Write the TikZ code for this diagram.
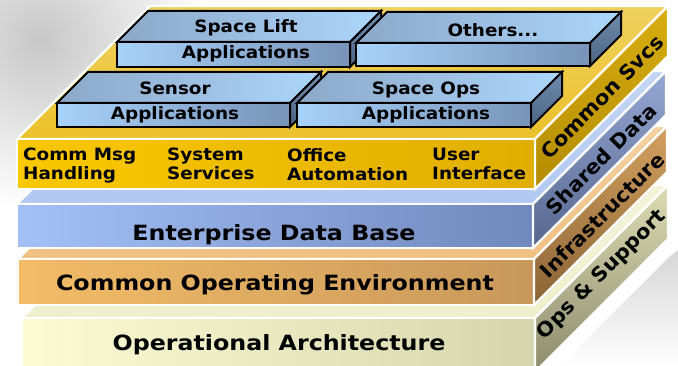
\documentclass[tikz,border=0pt]{standalone}
\usepackage{fontspec}
\setmainfont{DejaVu Sans}
\newfontfamily\bigfont{DejaVu Sans}[FakeStretch=1.13]
\newfontfamily\smallfont{DejaVu Sans}[FakeStretch=1.08]
\newfontfamily\sidefont{DejaVu Sans}[FakeStretch=1.05]
\definecolor{ylTop}{HTML}{EBC12A}
\definecolor{ylFrontL}{HTML}{FAC800}
\definecolor{ylFrontR}{HTML}{E0AE00}
\definecolor{ylSideA}{HTML}{D8AE10}
\definecolor{ylSideB}{HTML}{B48C00}
\definecolor{blTop}{HTML}{B0C8F2}
\definecolor{blFrontL}{HTML}{A4C0F6}
\definecolor{blFrontR}{HTML}{7088BC}
\definecolor{blSideA}{HTML}{94A8D4}
\definecolor{blSideB}{HTML}{56678E}
\definecolor{orTop}{HTML}{F0C080}
\definecolor{orFrontL}{HTML}{F2BC68}
\definecolor{orFrontR}{HTML}{C8985A}
\definecolor{orSideA}{HTML}{D4A060}
\definecolor{orSideB}{HTML}{8A6434}
\definecolor{opTop}{HTML}{EEF0CC}
\definecolor{opFrontL}{HTML}{FCFCD4}
\definecolor{opFrontR}{HTML}{D6D6AE}
\definecolor{opSideA}{HTML}{DCDCB4}
\definecolor{opSideB}{HTML}{8C8C6E}
\definecolor{apTopL}{HTML}{8CA8C8}
\definecolor{apTopR}{HTML}{ACD6FC}
\definecolor{apFrontL}{HTML}{A8D2FA}
\definecolor{apFrontR}{HTML}{7894B8}
\definecolor{apSide}{HTML}{6E8CAE}
\definecolor{apSideB}{HTML}{4C6484}
\newcommand{\mylayer}[9]{%
  % #1 xL, #2 yT, #3 yB, #4 top, #5 frontL, #6 frontR, #7 sideA, #8 sideB, #9 xR
  \path[layerline, top color=#4!75!white, bottom color=#4]
     (#1,#2) -- ++(133,-133) -- (#9+133,#2-133) -- (#9,#2) -- cycle;
  \path[layerline, left color=#5, right color=#6]
     (#1,#2) rectangle (#9,#3);
  \path[layerline, shading angle=45, top color=#7, bottom color=#8]
     (#9,#2) -- ++(133,-133) -- (#9+133,#3-133) -- (#9,#3) -- cycle;
}
\newcommand{\appbox}[4]{%
  % #1 xL, #2 yT, #3 xR, #4 yB ; depth 31
  \path[boxline, left color=apTopL, right color=apTopR]
     (#1,#2) -- ++(31,-31) -- (#3+31,#2-31) -- (#3,#2) -- cycle;
  \path[boxline, left color=apFrontL, right color=apFrontR]
     (#1,#2) rectangle (#3,#4);
  \path[boxline, top color=apSide, bottom color=apSideB]
     (#3,#2) -- ++(31,-31) -- (#3+31,#4-31) -- (#3,#4) -- cycle;
}
\begin{document}
\begin{tikzpicture}[x=1pt,y=-1pt,
  layerline/.style={draw=white, line width=2.2pt, line join=miter},
  boxline/.style={draw=black, line width=2pt, line join=miter},
  big/.style={font=\bigfont\fontsize{21}{24}\selectfont\bfseries, inner sep=0pt, anchor=base},
  small/.style={font=\smallfont\fontsize{17}{19}\selectfont\bfseries, inner sep=0pt, anchor=north west, align=left},
  boxtxt/.style={font=\smallfont\fontsize{17}{19}\selectfont\bfseries, inner sep=0pt, anchor=base},
  sidetxt/.style={font=\sidefont\fontsize{20}{22}\selectfont\bfseries, inner sep=0pt, rotate=45}]
\useasboundingbox (0,0) rectangle (678,366);
\fill[white] (0,0) rectangle (678,366);
% background
\shade[inner color=black!22, outer color=white] (40,40) circle (170);
\shade[left color=black!16, right color=white, shading angle=0] (560,366) -- (668,258) -- (678,250) -- (678,366) -- cycle;
% layers bottom to top
\mylayer{22}{318}{372}{opTop}{opFrontL}{opFrontR}{opSideA}{opSideB}{535}
\mylayer{18}{259}{305}{orTop}{orFrontL}{orFrontR}{orSideA}{orSideB}{534}
\mylayer{17}{204}{248}{blTop}{blFrontL}{blFrontR}{blSideA}{blSideB}{533}
\mylayer{17}{139}{189}{ylTop}{ylFrontL}{ylFrontR}{ylSideA}{ylSideB}{535}
% application boxes
\appbox{117}{42}{350}{67}
\appbox{356}{43}{590}{66}
\appbox{57}{103}{290}{127}
\appbox{297}{103}{531}{127}
% box texts
\node[boxtxt] (slT) at (246,33) {Space Lift};
\node[boxtxt] (slA) at (246,59) {Applications};
\node[boxtxt] (ot) at (493,37) {Others...};
\node[boxtxt] (snT) at (175,95) {Sensor};
\node[boxtxt] (snA) at (175,120) {Applications};
\node[boxtxt] (soT) at (426,95) {Space Ops};
\node[boxtxt] (soA) at (426,120) {Applications};
% services
\node[small] (cm) at (23,148) {Comm Msg\\Handling};
\node[small] (ss) at (167,148) {System\\Services};
\node[small] (oa) at (287,148) {Office\\Automation};
\node[small] (ui) at (432,148) {User\\Interface};
% layer names
\node[big] (edb) at (274,241) {Enterprise Data Base};
\node[big] (coe) at (275,291) {Common Operating Environment};
\node[big] (oarch) at (279,351) {Operational Architecture};
% side labels
\node[sidetxt] (cs) at (602,97) {Common Svcs};
\node[sidetxt] (sd) at (601,159) {Shared Data};
\node[sidetxt] (inf) at (602,215) {Infrastructure};
\node[sidetxt] (ops) at (602,275) {Ops \& Support};
\end{tikzpicture}
\end{document}
